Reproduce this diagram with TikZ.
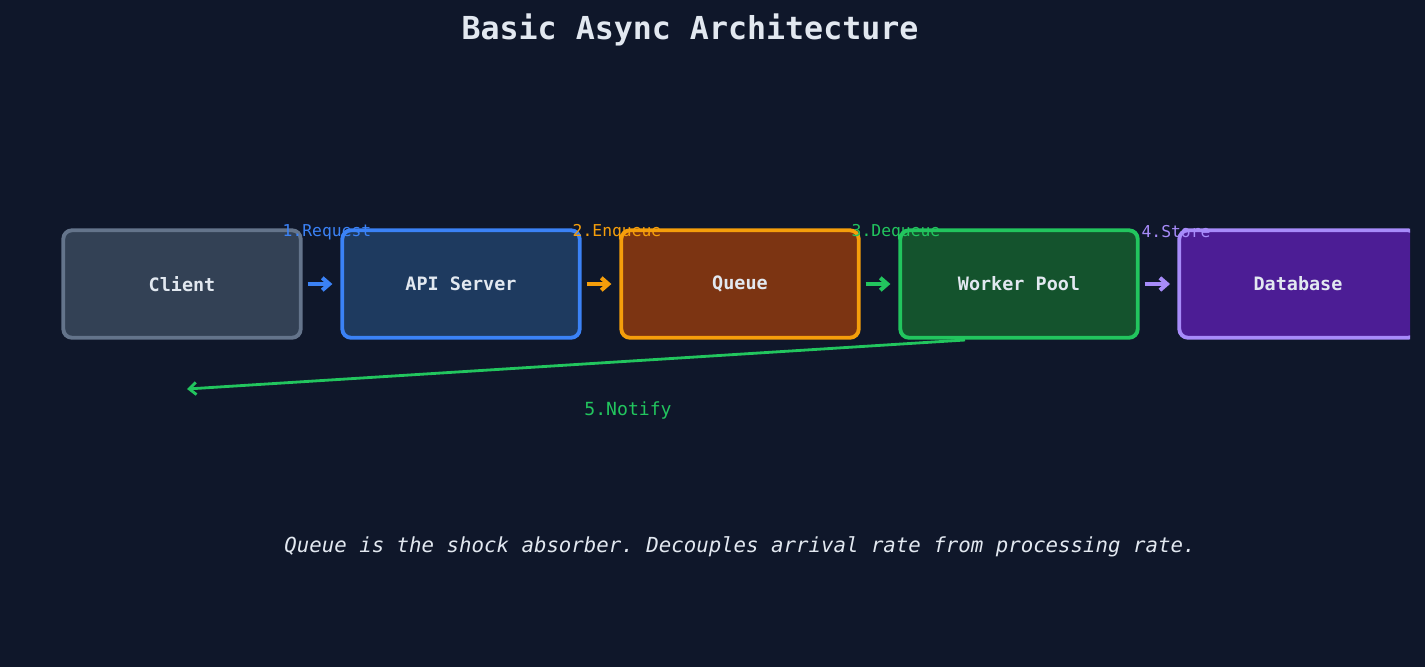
\documentclass[tikz,border=0pt]{standalone}
\usepackage{fontspec}
\setmonofont{DejaVu Sans Mono}
\usetikzlibrary{arrows.meta}
\definecolor{bg}{HTML}{0F172A}
\definecolor{txt}{HTML}{E2E8F0}
\definecolor{cF}{HTML}{334155}\definecolor{cB}{HTML}{64748B}
\definecolor{aF}{HTML}{1E3A5F}\definecolor{aB}{HTML}{3B82F6}
\definecolor{qF}{HTML}{7C3412}\definecolor{qB}{HTML}{F59E0B}
\definecolor{wF}{HTML}{14532D}\definecolor{wB}{HTML}{22C55E}
\definecolor{dF}{HTML}{4C1D95}\definecolor{dB}{HTML}{A78BFA}
\begin{document}
\begin{tikzpicture}[x=0.02cm,y=-0.02cm,
 box/.style={draw,line width=2.2pt,rounded corners=5pt,minimum width=4.75cm,minimum height=2.15cm,text=txt,font=\ttfamily\bfseries\fontsize{10.5}{12}\selectfont},
 arr/.style={line width=2.3pt,-{Straight Barb[length=4pt,width=7pt]},shorten <=0.1cm,shorten >=0.16cm},
 lab/.style={font=\ttfamily\fontsize{9.3}{11}\selectfont}]
\fill[bg] (0,0) rectangle (1425,667);
\useasboundingbox (0,0) rectangle (1425,667);
\node[font=\ttfamily\bfseries\fontsize{18}{20}\selectfont,text=txt] (title) at (690,30) {Basic Async Architecture};
\node[box,fill=cF,draw=cB] (client) at (182,284) {Client};
\node[box,fill=aF,draw=aB] (api) at (461,284) {API Server};
\node[box,fill=qF,draw=qB] (queue) at (740,284) {Queue};
\node[box,fill=wF,draw=wB] (worker) at (1019,284) {Worker Pool};
\begin{scope}
\clip (1150,200) rectangle (1410,360);
\node[box,fill=dF,draw=dB] (db) at (1298,284) {Database};
\end{scope}
\coordinate (dbw) at (1178,284);
\draw[arr,aB] (client.east) -- (api.west);
\draw[arr,qB] (api.east) -- (queue.west);
\draw[arr,wB] (queue.east) -- (worker.west);
\draw[arr,dB] (worker.east) -- (dbw);
\node[lab,text=aB] (l1) at (327,232) {1.Request};
\node[lab,text=qB] (l2) at (617,232) {2.Enqueue};
\node[lab,text=wB] (l3) at (896,232) {3.Dequeue};
\node[lab,text=dB] (l4) at (1176,232) {4.Store};
\coordinate (nstart) at (965,340);
\coordinate (nend) at (187,389);
\draw[wB,line width=1.6pt,-{Straight Barb[length=4pt,width=7pt]}] (nstart) -- (nend);
\node[lab,text=wB,font=\ttfamily\fontsize{10.3}{12}\selectfont] (l5) at (628,410) {5.Notify};
\node[text=txt,font=\ttfamily\itshape\fontsize{11.8}{14}\selectfont] (cap) at (740,547) {Queue is the shock absorber. Decouples arrival rate from processing rate.};
\end{tikzpicture}
\end{document}
